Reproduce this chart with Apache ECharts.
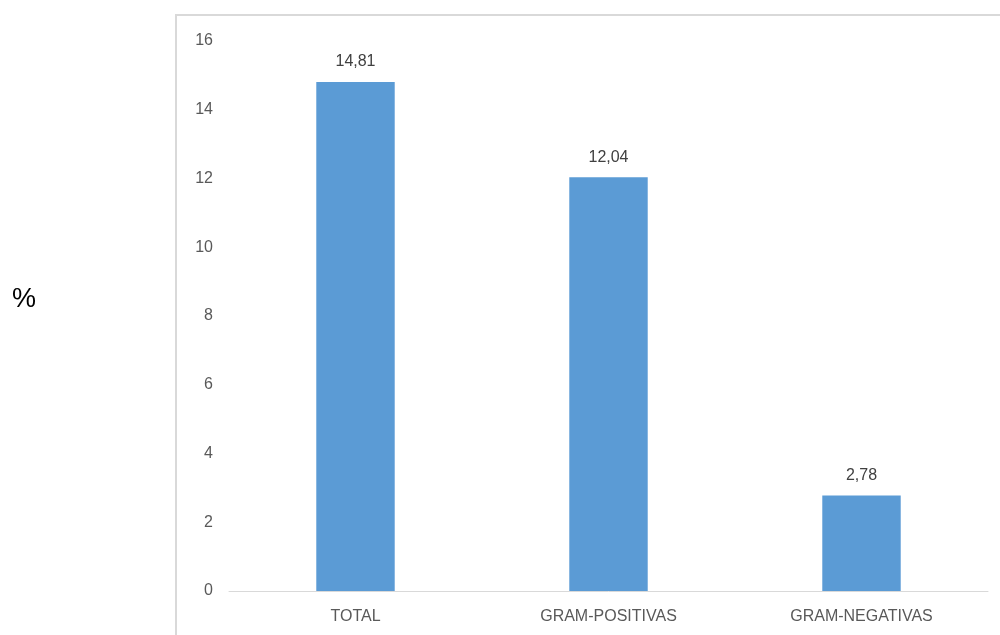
<!DOCTYPE html>
<html>
<head>
<meta charset="utf-8">
<script src="https://cdn.jsdelivr.net/npm/echarts@6/dist/echarts.min.js"></script>
<style>html,body{margin:0;padding:0;background:#fff}#c{width:1000px;height:635px}</style>
</head>
<body>
<div id="c"></div>
<script>
const categories = ['TOTAL', 'GRAM-POSITIVAS', 'GRAM-NEGATIVAS'];
const values = [14.81, 12.04, 2.78];
const yTicks = { min: 0, max: 16, interval: 2 };
const yName = '%';

const chart = echarts.init(document.getElementById('c'));
chart.setOption({
  animation: false,
  backgroundColor: '#fff',
  graphic: [
    { type: 'rect', shape: { x: 176, y: 15, width: 900, height: 700 },
      style: { fill: 'none', stroke: '#d9d9d9', lineWidth: 2 }, z: -1 },
    { type: 'text', left: 12, top: 286,
      style: { text: yName, font: '27px "Liberation Sans"', fill: '#000' } }
  ],
  grid: { left: 229, right: 12, top: 41, bottom: 44 },
  xAxis: {
    type: 'category',
    data: categories,
    axisLine: { lineStyle: { color: '#d9d9d9', width: 1 } },
    axisTick: { show: false },
    axisLabel: { color: '#595959', fontSize: 16, fontFamily: 'Liberation Sans', margin: 18 }
  },
  yAxis: {
    type: 'value',
    min: yTicks.min, max: yTicks.max, interval: yTicks.interval,
    axisLine: { show: false },
    axisTick: { show: false },
    splitLine: { show: false },
    axisLabel: { color: '#595959', fontSize: 16, fontFamily: 'Liberation Sans', margin: 16 }
  },
  series: [{
    type: 'bar',
    data: values,
    barWidth: '31%',
    itemStyle: { color: '#5b9bd5' },
    label: {
      show: true, position: 'top', distance: 12,
      color: '#404040', fontSize: 16, fontFamily: 'Liberation Sans',
      formatter: p => p.value.toFixed(2).replace('.', ',')
    }
  }]
});
</script>
</body>
</html>
